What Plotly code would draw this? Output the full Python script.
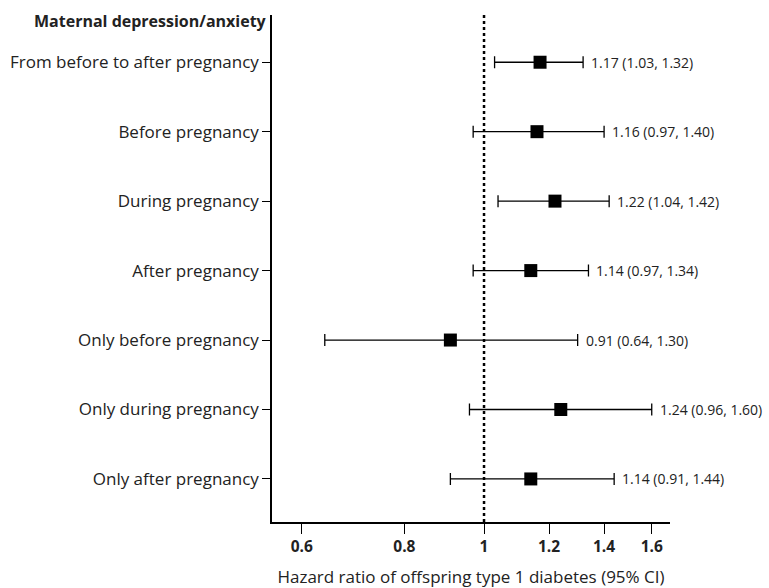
import plotly.graph_objects as go
import numpy as np

categories = ["From before to after pregnancy", "Before pregnancy", "During pregnancy",
              "After pregnancy", "Only before pregnancy", "Only during pregnancy",
              "Only after pregnancy"]
hr = [1.17, 1.16, 1.22, 1.14, 0.91, 1.24, 1.14]
lower = [1.03, 0.97, 1.04, 0.97, 0.64, 0.96, 0.91]
upper = [1.32, 1.40, 1.42, 1.34, 1.30, 1.60, 1.44]
xticks = [0.6, 0.8, 1, 1.2, 1.4, 1.6]
xticklabels = ["0.6", "0.8", "1", "1.2", "1.4", "1.6"]
header = "Maternal depression/anxiety"
xtitle = "Hazard ratio of offspring type 1 diabetes (95% CI)"

FONT = "Open Sans, sans-serif"
ypos = list(range(len(categories)))

fig = go.Figure()
fig.add_trace(go.Scatter(
    x=hr, y=ypos, mode="markers",
    marker=dict(symbol="square", size=13, color="black"),
    error_x=dict(type="data", symmetric=False,
                 array=[u - h for u, h in zip(upper, hr)],
                 arrayminus=[h - l for h, l in zip(hr, lower)],
                 color="black", thickness=1.3, width=6),
    showlegend=False, hoverinfo="skip"))

fig.add_shape(type="line", x0=1, x1=1, xref="x", y0=0, y1=1, yref="paper",
              line=dict(color="black", width=2.5, dash="dot"), layer="below")

for h, l, u, y in zip(hr, lower, upper, ypos):
    fig.add_annotation(x=np.log10(u), y=y, xref="x", yref="y",
                       text=f"{h:.2f} ({l:.2f}, {u:.2f})",
                       showarrow=False, xanchor="left", xshift=6,
                       font=dict(family=FONT, size=14, color="#222"))

fig.add_annotation(x=0, y=1, xref="paper", yref="paper", xanchor="right", yanchor="middle",
                   xshift=-3, yshift=-6,
                   text=f"<b>{header}</b>", showarrow=False,
                   font=dict(family=FONT, size=16, color="#222"))

fig.update_xaxes(type="log", range=[np.log10(0.552), np.log10(1.684)],
                 tickvals=xticks, ticktext=[f"<b>{t}</b>" for t in xticklabels],
                 ticks="outside", ticklen=10, tickwidth=1.3, tickcolor="black",
                 showline=True, linecolor="black", linewidth=1.5,
                 showgrid=False, zeroline=False, automargin=False,
                 tickfont=dict(family=FONT, size=15.5, color="#222"),
                 title=dict(text=xtitle, font=dict(family=FONT, size=17, color="#222"), standoff=20))
fig.update_yaxes(range=[6.62, -0.68], tickvals=ypos, ticktext=categories,
                 ticks="outside", ticklen=8, tickwidth=1.3, tickcolor="black",
                 showline=True, linecolor="black", linewidth=1.5,
                 showgrid=False, zeroline=False, automargin=False,
                 tickfont=dict(family=FONT, size=17, color="#222"))

fig.update_layout(width=769, height=588, margin=dict(l=272, r=99, t=15, b=66),
                  plot_bgcolor="white", paper_bgcolor="white")

fig.write_html("out.html")
